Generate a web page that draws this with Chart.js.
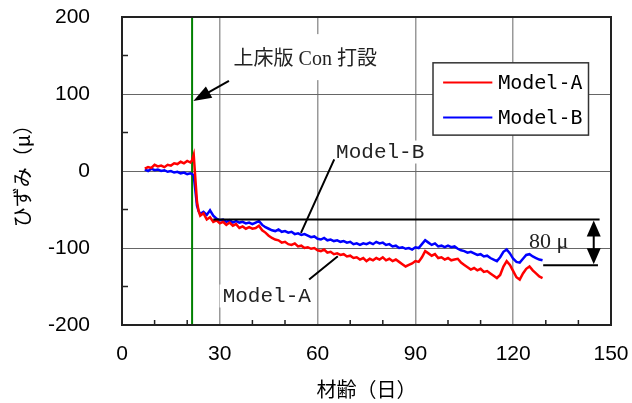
<!DOCTYPE html>
<html>
<head>
<meta charset="utf-8">
<script src="https://cdn.jsdelivr.net/npm/chart.js@4.4.1/dist/chart.umd.min.js"></script>
<style>
  html, body { margin: 0; padding: 0; background: #fff; }
</style>
</head>
<body>
<canvas id="strainChart" width="632" height="403"></canvas>
<script>
// 材齢（日）
const days = [7, 8, 9, 10, 11, 12, 13, 14, 15, 16, 17, 18, 19, 20, 21,
  21.5, 22, 22.5, 23, 23.5,
  24, 25, 26, 27, 28, 29, 30, 31, 32, 33, 34, 35, 36, 37, 38, 39, 40, 41, 42, 43,
  44, 45, 46, 47, 48, 49, 50, 51, 52, 53,
  54, 55, 56, 57, 58, 59, 60, 61, 62, 63,
  64, 65, 66, 67, 68, 69, 70, 71, 72, 73,
  74, 75, 76, 77, 78, 79, 80, 81, 82, 83,
  84, 85, 86, 87, 88, 89, 90, 91, 92, 93,
  94, 95, 96, 97, 98, 99, 100, 101, 102, 103,
  104, 105, 106, 107, 108, 109, 110, 111, 112, 113,
  114, 115, 116, 117, 118, 119, 120, 121, 122, 123,
  124, 125, 126, 127, 128, 129];

// ひずみ（μ）
const modelA = [3, 5, 4, 8, 6, 7, 5, 8, 7, 10, 9, 12, 10, 13, 11,
  14, 21, -10, -40, -52,
  -58, -55, -63, -60, -66, -64, -68, -66, -70, -67, -71, -69, -74, -72, -75, -73, -75, -74, -71, -77,
  -80, -84, -87, -89, -90, -93, -92, -95, -96, -94,
  -98, -97, -100, -99, -101, -100, -103, -104, -102, -106,
  -105, -108, -107, -109, -108, -111, -110, -113, -112, -115,
  -113, -117, -114, -116, -113, -115, -112, -116, -114, -117,
  -115, -118, -121, -124, -122, -120, -117, -118, -112, -104,
  -107, -110, -108, -113, -112, -115, -113, -116, -115, -114,
  -119, -122, -125, -128, -126, -129, -127, -131, -130, -133,
  -136, -139, -135, -124, -117, -122, -130, -138, -141, -133,
  -127, -124, -129, -133, -137, -139];

const modelB = [2, 0, 3, 1, 2, 0, 1, -1, 0, -2, -1, -3, -2, -4, -3,
  -4, -6, -25, -45, -52,
  -56, -53, -57, -51, -58, -62, -64, -63, -66, -64, -67, -65, -67, -66, -68, -67, -69, -67, -65, -70,
  -73, -75, -77, -78, -76, -79, -78, -80, -79, -82,
  -81, -83, -82, -84, -86, -85, -88, -89, -87, -90,
  -89, -91, -90, -92, -91, -93, -92, -95, -94, -96,
  -94, -95, -93, -95, -92, -94, -93, -96, -95, -98,
  -97, -100, -99, -101, -100, -102, -99, -100, -95, -90,
  -93, -96, -94, -98, -97, -99, -97, -99, -98, -101,
  -103, -104, -106, -105, -107, -109, -108, -111, -110, -113,
  -115, -117, -112, -105, -102, -107, -114, -118, -119, -114,
  -109, -108, -111, -113, -115, -116];

const minorX = [10, 20, 40, 50, 70, 80, 100, 110, 130, 140];
const minorY = [150, 50, -50, -150];
const pourDay = 21.5;           // 上床版 Con 打設
const gapTop = -63, gapBottom = -122.5;

function toXY(vals) {
  return vals.map((v, i) => ({ x: days[i], y: v }));
}

function arrowHead(ctx, x0, y0, x1, y1, len, wid) {
  const a = Math.atan2(y1 - y0, x1 - x0);
  ctx.beginPath();
  ctx.moveTo(x1, y1);
  ctx.lineTo(x1 - len * Math.cos(a) + wid / 2 * Math.sin(a), y1 - len * Math.sin(a) - wid / 2 * Math.cos(a));
  ctx.lineTo(x1 - len * Math.cos(a) - wid / 2 * Math.sin(a), y1 - len * Math.sin(a) + wid / 2 * Math.cos(a));
  ctx.closePath();
  ctx.fill();
}

function whiteBox(ctx, text, cx, cy, font, padX, up, down) {
  ctx.font = font;
  const w = ctx.measureText(text).width;
  ctx.fillStyle = '#fff';
  ctx.fillRect(cx - w / 2 - padX, cy - up, w + padX * 2, up + down);
}

const notes = {
  id: 'notes',
  beforeDatasetsDraw(chart) {
    const { ctx, chartArea: a, scales: { x, y } } = chart;
    ctx.save();
    whiteBox(ctx, '上床版 Con 打設', x.getPixelForValue(56.2), y.getPixelForValue(144), '20px "Liberation Serif", "Noto Sans CJK JP"', 12, 26, 20);
    whiteBox(ctx, 'Model-B', x.getPixelForValue(79.2), y.getPixelForValue(24), '21px "Liberation Mono"', 3, 12, 11);
    whiteBox(ctx, 'Model-A', x.getPixelForValue(44.4), y.getPixelForValue(-163), '21px "Liberation Mono"', 3, 12, 11);
    // green line
    ctx.strokeStyle = '#008000';
    ctx.lineWidth = 2;
    const gx = x.getPixelForValue(pourDay);
    ctx.beginPath();
    ctx.moveTo(gx, a.top);
    ctx.lineTo(gx, a.bottom);
    ctx.stroke();
    ctx.restore();
  },
  afterDatasetsDraw(chart) {
    const { ctx, scales: { x, y } } = chart;
    const px = v => x.getPixelForValue(v);
    const py = v => y.getPixelForValue(v);
    ctx.save();
    ctx.strokeStyle = '#000';
    ctx.fillStyle = '#000';
    ctx.lineWidth = 2;

    // level lines
    ctx.beginPath();
    ctx.moveTo(px(28), py(gapTop));
    ctx.lineTo(px(146.5), py(gapTop));
    ctx.moveTo(px(129.2), py(gapBottom));
    ctx.lineTo(px(146), py(gapBottom));
    ctx.stroke();

    // double arrow
    const ax = px(144.7);
    ctx.beginPath();
    ctx.moveTo(ax, py(gapTop) + 14);
    ctx.lineTo(ax, py(gapBottom) - 14);
    ctx.stroke();
    arrowHead(ctx, ax, py(gapTop) + 20, ax, py(gapTop) + 1, 16, 14);
    arrowHead(ctx, ax, py(gapBottom) - 20, ax, py(gapBottom) - 1, 16, 14);

    // leader lines
    ctx.lineWidth = 2;
    ctx.beginPath();
    ctx.moveTo(px(65.1), py(15.1));
    ctx.lineTo(px(54.9), py(-80.3));
    ctx.moveTo(px(57.4), py(-141));
    ctx.lineTo(px(66.2), py(-110.8));
    ctx.stroke();

    // pour arrow
    const sx = px(32.8), sy = py(117), tx = px(21.9), ty = py(91);
    ctx.beginPath();
    ctx.moveTo(sx, sy);
    ctx.lineTo(tx + (sx - tx) * 0.4, ty + (sy - ty) * 0.4);
    ctx.stroke();
    arrowHead(ctx, sx, sy, tx, ty, 18, 13);

    // texts
    ctx.textAlign = 'center';
    ctx.textBaseline = 'middle';
    ctx.fillStyle = '#222';
    ctx.font = '20px "Liberation Serif", "Noto Sans CJK JP"';
    ctx.fillText('上床版 Con 打設', px(56.2), py(144));
    ctx.font = '21px "Liberation Mono"';
    ctx.fillText('Model-B', px(79.2), py(24));
    ctx.fillText('Model-A', px(44.4), py(-163));
    ctx.font = '22px "Liberation Serif"';
    ctx.fillText('80 μ', px(130.9), py(-93));

    // legend
    const lx0 = px(95.4), lx1 = px(143.1), ly0 = py(140.5), ly1 = py(46.6);
    ctx.fillStyle = '#fff';
    ctx.fillRect(lx0, ly0, lx1 - lx0, ly1 - ly0);
    ctx.strokeStyle = '#333';
    ctx.lineWidth = 1.5;
    ctx.strokeRect(lx0, ly0, lx1 - lx0, ly1 - ly0);
    const rows = [115, 69.4];
    chart.data.datasets.forEach((ds, i) => {
      const ry = py(rows[i]);
      ctx.strokeStyle = ds.borderColor;
      ctx.lineWidth = 2;
      ctx.beginPath();
      ctx.moveTo(px(98.5), ry);
      ctx.lineTo(px(113.6), ry);
      ctx.stroke();
      ctx.fillStyle = '#000';
      ctx.textAlign = 'left';
      ctx.font = '20px "DejaVu Sans Mono"';
      ctx.fillText(ds.label, px(115.4), ry + 1);
    });
    ctx.restore();
  },
  afterDraw(chart) {
    const { ctx, chartArea: a, scales: { x, y } } = chart;
    ctx.save();
    ctx.strokeStyle = '#222';
    ctx.lineWidth = 1.5;
    ctx.beginPath();
    minorX.forEach(v => {
      const p = x.getPixelForValue(v);
      ctx.moveTo(p, a.bottom);
      ctx.lineTo(p, a.bottom - 5);
    });
    minorY.forEach(v => {
      const p = y.getPixelForValue(v);
      ctx.moveTo(a.left, p);
      ctx.lineTo(a.left + 6, p);
    });
    ctx.stroke();
    ctx.lineWidth = 2;
    ctx.strokeRect(a.left, a.top, a.right - a.left, a.bottom - a.top);
    ctx.restore();
  }
};

new Chart(document.getElementById('strainChart'), {
  type: 'line',
  data: {
    datasets: [
      { label: 'Model-A', data: toXY(modelA), borderColor: '#ff0000', borderWidth: 2.5, pointRadius: 0, tension: 0 },
      { label: 'Model-B', data: toXY(modelB), borderColor: '#0000ff', borderWidth: 2.5, pointRadius: 0, tension: 0 }
    ]
  },
  options: {
    responsive: false,
    animation: false,
    devicePixelRatio: 1,
    layout: { padding: { top: 17, right: 21, left: 0, bottom: 0 } },
    plugins: { legend: { display: false }, tooltip: { enabled: false } },
    scales: {
      x: {
        type: 'linear',
        min: 0, max: 150,
        afterFit: s => { s.height = 78; s.paddingLeft = 0; s.paddingRight = 0; },
        ticks: { stepSize: 30, padding: 17, color: '#000', font: { family: '"Liberation Sans"', size: 21 } },
        grid: { drawTicks: false, lineWidth: 1.5, color: c => (c.tick.value === 0 || c.tick.value === 150) ? 'rgba(0,0,0,0)' : '#999' },
        border: { display: false },
        title: { display: true, text: '材齢（日）', color: '#000', padding: { top: 0, bottom: 2 }, font: { family: '"Noto Sans CJK JP"', size: 20 } }
      },
      y: {
        min: -200, max: 200,
        afterFit: s => { s.width = 122; s.paddingTop = 0; s.paddingBottom = 0; },
        ticks: { stepSize: 100, padding: 32, color: '#000', font: { family: '"Liberation Sans"', size: 21 } },
        grid: { drawTicks: false, lineWidth: 1, color: c => Math.abs(c.tick.value) === 200 ? 'rgba(0,0,0,0)' : '#666' },
        border: { display: false },
        title: { display: true, text: 'ひずみ（μ）', color: '#000', padding: { top: 10, bottom: 0 }, font: { family: '"Noto Sans CJK JP"', size: 20 } }
      }
    }
  },
  plugins: [notes]
});
</script>
</body>
</html>
